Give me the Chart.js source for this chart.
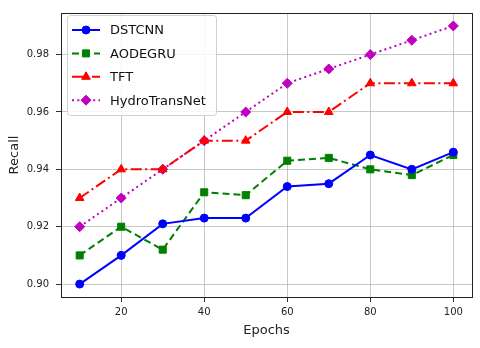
<!DOCTYPE html>
<html>
<head>
<meta charset="utf-8">
<script src="https://cdn.jsdelivr.net/npm/chart.js@4.4.1/dist/chart.umd.min.js"></script>
<style>
  body { margin: 0; background: #fff; }
  canvas { display: block; }
</style>
</head>
<body>
<canvas id="recallChart" width="480" height="348"></canvas>
<script>
const epochs = [10, 20, 30, 40, 50, 60, 70, 80, 90, 100];
const dstcnn = [0.900, 0.910, 0.921, 0.923, 0.923, 0.934, 0.935, 0.945, 0.940, 0.946];
const aodegru = [0.910, 0.920, 0.912, 0.932, 0.931, 0.943, 0.944, 0.940, 0.938, 0.945];
const tft = [0.930, 0.940, 0.940, 0.950, 0.950, 0.960, 0.960, 0.970, 0.970, 0.970];
const hydroTransNet = [0.920, 0.930, 0.940, 0.950, 0.960, 0.970, 0.975, 0.980, 0.985, 0.990];
const xTicks = [20, 40, 60, 80, 100];
const yTicks = [0.90, 0.92, 0.94, 0.96, 0.98];

Chart.defaults.font.family = "'DejaVu Sans', sans-serif";
Chart.defaults.color = "#222";

function toPoints(values) {
  return values.map((v, i) => ({ x: epochs[i], y: v }));
}

function makeSeries(label, values, color, dash, pointStyle, radius) {
  return {
    label: label,
    data: toPoints(values),
    borderColor: color,
    backgroundColor: color,
    borderWidth: 2,
    borderDash: dash,
    pointStyle: pointStyle,
    pointRadius: radius,
    pointBorderWidth: 1,
    pointBackgroundColor: color,
    pointBorderColor: color,
    tension: 0,
  };
}

// matplotlib style frame + legend inside the axes
const mplFrame = {
  id: "mplFrame",
  afterDraw(chart) {
    const ctx = chart.ctx;
    const a = chart.chartArea;
    ctx.save();
    ctx.strokeStyle = "#222";
    ctx.lineWidth = 1;
    ctx.strokeRect(Math.round(a.left) + 0.5, Math.round(a.top) + 0.5,
      Math.round(a.right - a.left), Math.round(a.bottom - a.top));

    // legend box
    const bx = 67, by = 15, bw = 149, bh = 100;
    ctx.beginPath();
    ctx.roundRect(bx + 0.5, by + 0.5, bw, bh, 3);
    ctx.fillStyle = "rgba(255,255,255,0.85)";
    ctx.fill();
    ctx.strokeStyle = "#d0d0d0";
    ctx.stroke();

    chart.data.datasets.forEach((ds, i) => {
      const y = 30 + i * 23.4;
      ctx.beginPath();
      ctx.setLineDash(ds.borderDash);
      ctx.strokeStyle = ds.borderColor;
      ctx.lineWidth = 2;
      ctx.moveTo(72, y);
      ctx.lineTo(100, y);
      ctx.stroke();
      ctx.setLineDash([]);
      ctx.fillStyle = ds.borderColor;
      ctx.strokeStyle = ds.borderColor;
      ctx.lineWidth = 1;
      Chart.helpers.drawPoint(ctx, { pointStyle: ds.pointStyle, radius: ds.pointRadius, rotation: 0, borderWidth: 1 }, 86, y);
      ctx.fillStyle = "#111";
      ctx.font = "13px 'DejaVu Sans', sans-serif";
      ctx.textBaseline = "middle";
      ctx.textAlign = "left";
      ctx.fillText(ds.label, 110, y + 1);
    });
    ctx.restore();
  },
};

const ctx = document.getElementById("recallChart").getContext("2d");
new Chart(ctx, {
  type: "line",
  data: {
    datasets: [
      makeSeries("DSTCNN", dstcnn, "#0000ff", [], "circle", 4),
      makeSeries("AODEGRU", aodegru, "#008000", [7, 4], "rect", 5),
      makeSeries("TFT", tft, "#ff0000", [11, 3.5, 2, 3.5], "triangle", 5),
      makeSeries("HydroTransNet", hydroTransNet, "#bf00bf", [2, 3.3], "rectRot", 5),
    ],
  },
  options: {
    responsive: false,
    animation: false,
    layout: { padding: { top: 10, right: 8, bottom: 0, left: 0 } },
    plugins: {
      legend: { display: false },
      tooltip: { enabled: false },
    },
    scales: {
      x: {
        type: "linear",
        min: 5.5,
        max: 104.5,
        afterBuildTicks: (scale) => { scale.ticks = xTicks.map((v) => ({ value: v })); },
        afterFit: (scale) => { scale.height = 51; },
        border: { display: false },
        grid: { color: "rgba(176,176,176,0.7)", lineWidth: 1, tickLength: 5, tickColor: "#333" },
        ticks: { font: { size: 10 }, padding: 4, maxRotation: 0, callback: (v) => String(v) },
        title: { display: true, text: "Epochs", font: { size: 13 }, padding: { top: 0, bottom: 10 } },
      },
      y: {
        type: "linear",
        min: 0.8955,
        max: 0.9945,
        afterBuildTicks: (scale) => { scale.ticks = yTicks.map((v) => ({ value: v })); },
        afterFit: (scale) => { scale.width = 61; },
        border: { display: false },
        grid: { color: "rgba(176,176,176,0.7)", lineWidth: 1, tickLength: 5, tickColor: "#333" },
        ticks: { font: { size: 10 }, padding: 7, callback: (v) => Number(v).toFixed(2) },
        title: { display: true, text: "Recall", font: { size: 13 }, padding: { top: 7, bottom: 0 } },
      },
    },
  },
  plugins: [mplFrame],
});
</script>
</body>
</html>
